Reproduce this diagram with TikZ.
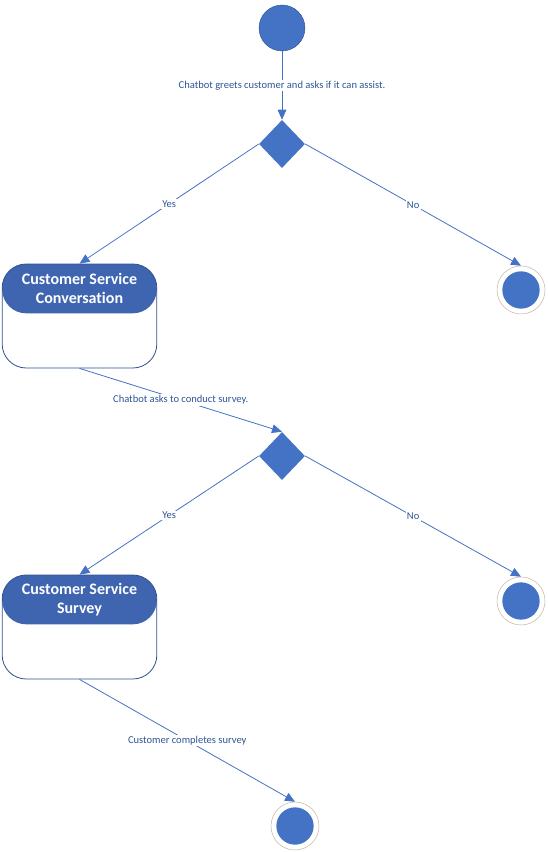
\documentclass[tikz,border=0pt]{standalone}
\usepackage{fontspec}
\setmainfont{Carlito}[Ligatures=NoCommon]
\usepackage{xcolor}
\definecolor{stateblue}{HTML}{4472C4}
\definecolor{headblue}{HTML}{3F65B1}
\definecolor{rimblue}{HTML}{2F528F}
\definecolor{labelblue}{HTML}{2F5597}
\definecolor{ringgray}{HTML}{C4B8AC}
\usepackage{tikz}
\usetikzlibrary{arrows.meta, shapes.geometric, positioning, calc}

\begin{document}
\begin{tikzpicture}[x=0.75pt, y=-0.75pt, font=\fontsize{7.9}{9}\selectfont,
  startstate/.style={circle, fill=stateblue, draw=rimblue, line width=0.3pt, minimum size=34.5pt, inner sep=0pt},
  endstate/.style={circle, draw=ringgray, line width=0.4pt, minimum size=36pt, inner sep=0pt,
    path picture={\fill[stateblue] (path picture bounding box.center) circle (14pt);}},
  choice/.style={diamond, fill=stateblue, minimum width=34.5pt, minimum height=36pt, inner sep=0pt},
  statebox/.style={rectangle, rounded corners=18pt, draw=rimblue, line width=0.6pt, fill=white,
    minimum width=116pt, minimum height=78pt,
    path picture={\fill[headblue] ([yshift=-37pt]path picture bounding box.north west) rectangle (path picture bounding box.north east);}},
  headtext/.style={text=white, font=\fontsize{12}{14.3}\selectfont\bfseries, align=center},
  flow/.style={draw=stateblue, line width=0.6pt, -{Triangle[length=7.5pt, width=6.5pt]}},
  tag/.style={text=labelblue, fill=white, inner sep=1pt}]
  \useasboundingbox (0,0) rectangle (547,852);

  \node[startstate] (start) at (282,28) {};
  \node[choice] (ask) at (282,144) {};
  \node[endstate] (endA) at (521,290) {};
  \node[statebox] (conv) at (79.5,316) {};
  \node[headtext] (convhead) at ([yshift=-18.5pt]conv.north) {Customer Service\\Conversation};
  \node[choice] (survey) at (282,456) {};
  \node[endstate] (endB) at (521,601) {};
  \node[statebox] (surv) at (79.5,627) {};
  \node[headtext] (survhead) at ([yshift=-18.5pt]surv.north) {Customer Service\\Survey};
  \node[endstate] (endC) at (295,826) {};

  \draw[flow] (start) -- node[tag] {Chatbot greets customer and asks if it can assist.} (ask.north);
  \draw[flow] (ask.west) -- node[tag] {Yes} (conv.north);
  \draw[flow] (ask.east) -- node[tag] {No} (endA.north);
  \draw[flow] (conv.south) -- node[tag] {Chatbot asks to conduct survey.} (survey.north);
  \draw[flow] (survey.west) -- node[tag] {Yes} (surv.north);
  \draw[flow] (survey.east) -- node[tag] {No} (endB.north);
  \draw[flow] (surv.south) -- node[tag] {Customer completes survey} (endC.north);
\end{tikzpicture}
\end{document}
